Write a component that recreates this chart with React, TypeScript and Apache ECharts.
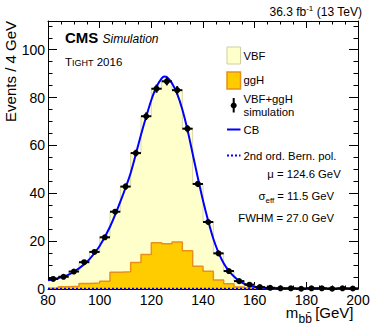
import React, { useEffect, useRef } from "react";
import * as echarts from "echarts";

// ---------- data ----------
const binLowEdges = [80, 84, 88, 92, 96, 100, 104, 108, 112, 116, 120, 124, 128, 132, 136, 140, 144, 148, 152, 156, 160, 164, 168, 172, 176, 180, 184, 188, 192, 196];
const binUpperEnd = 200;
const binCenters = [82, 86, 90, 94, 98, 102, 106, 110, 114, 118, 122, 126, 130, 134, 138, 142, 146, 150, 154, 158, 162, 166, 170, 174, 178, 182, 186, 190, 194, 198];

// VBF+ggH simulation (points)
const simValues = [4.2, 5.1, 7.3, 11.2, 15.5, 21.6, 32.3, 42.8, 56.8, 72.2, 83.7, 86.8, 83.1, 67.0, 43.9, 28.0, 14.9, 7.5, 3.3, 1.8, 0.8, 0.5, 0.3, 0.3, 0.1, 0.3, 0.3, 0.1, 0.3, 0.2];
const simErrors = [0.5, 0.5, 0.6, 0.7, 0.8, 0.9, 1.1, 1.3, 1.4, 1.6, 1.7, 1.7, 1.7, 1.5, 1.3, 1.0, 0.8, 0.6, 0.4, 0.3, 0.2, 0.2, 0.1, 0.1, 0.1, 0.1, 0.1, 0.1, 0.1, 0.1];

// stacked histograms (VBF sits on top of ggH)
const ggHValues = [0.3, 0.9, 1.1, 2.3, 2.5, 3.2, 7.0, 7.2, 11.1, 14.4, 19.3, 18.9, 19.6, 16.0, 9.5, 7.4, 3.8, 2.2, 0.8, 0.4, 0.2, 0.1, 0.05, 0.05, 0.0, 0.05, 0.0, 0.0, 0.05, 0.0];
const vbfValues = [3.9, 4.2, 6.2, 8.9, 13.0, 18.4, 25.3, 35.6, 45.7, 57.8, 64.4, 67.9, 63.5, 51.0, 34.4, 20.6, 11.1, 5.3, 2.5, 1.4, 0.6, 0.4, 0.25, 0.25, 0.1, 0.25, 0.3, 0.1, 0.25, 0.2];

// Crystal Ball fit curve
const cbX = [80, 84, 88, 92, 96, 100, 104, 108, 112, 116, 118, 120, 122, 124, 125, 126, 128, 130, 132, 134, 136, 138, 140, 142, 144, 146, 148, 150, 152, 154, 156, 158, 160, 164, 168, 175, 200];
const cbY = [3.6, 4.6, 6.0, 8.6, 12.4, 18.0, 26.0, 36.5, 48.5, 64.5, 72.0, 79.0, 84.5, 88.0, 88.8, 88.6, 86.0, 81.5, 75.0, 66.5, 56.5, 46.5, 37.0, 28.5, 21.0, 15.2, 10.8, 7.6, 5.2, 3.4, 2.2, 1.4, 0.9, 0.45, 0.3, 0.2, 0.15];

// 2nd order Bernstein polynomial (background, near zero)
const bernX = [80, 140, 200];
const bernY = [0.12, 0.1, 0.08];

const fitTexts = ["124.6", "11.5", "27.0"];

// ---------- helpers ----------
const FONT = "'Liberation Sans', Arial, Helvetica, sans-serif";
const BLACK = "#000000";

const stepData = (vals: number[]) =>
  binLowEdges.map((e, i) => [e, vals[i]]).concat([[binUpperEnd, vals[vals.length - 1]]]);

// stacked top of VBF = ggH + VBF
const stackedTop = vbfValues.map((v, i) => v + ggHValues[i]);

const xBase: any = {
  type: "value",
  min: 80,
  max: 200,
  interval: 20,
  axisLine: { show: true, onZero: false, lineStyle: { color: BLACK, width: 1 } },
  axisTick: { show: true, inside: true, length: 7, lineStyle: { color: BLACK, width: 1 } },
  minorTick: { show: true, splitNumber: 4, length: 3.5, lineStyle: { color: BLACK, width: 1 } },
  splitLine: { show: false },
  minorSplitLine: { show: false },
};

const yBase: any = {
  type: "value",
  min: 0,
  max: 112,
  splitLine: { show: false },
  axisLine: { show: true, onZero: false, lineStyle: { color: BLACK, width: 1 } },
};

const option: any = {
  animation: false,
  backgroundColor: "#ffffff",
  grid: { left: 48, right: 16, top: 21, bottom: 40, containLabel: false },
  xAxis: [
    {
      ...xBase,
      position: "bottom",
      axisLabel: { show: true, fontSize: 14, lineHeight: 10, color: BLACK, fontFamily: FONT, margin: 6 },
    },
    { ...xBase, position: "top", axisLabel: { show: false } },
  ],
  yAxis: [
    {
      ...yBase,
      position: "left",
      interval: 20,
      axisTick: { show: true, inside: true, length: 9, lineStyle: { color: BLACK } },
      axisLabel: { show: true, fontSize: 14, lineHeight: 10, color: BLACK, fontFamily: FONT, margin: 3, showMaxLabel: false },
    },
    {
      ...yBase,
      position: "left",
      interval: 5,
      axisLine: { show: false, onZero: false },
      axisTick: { show: true, inside: true, length: 4.5, lineStyle: { color: BLACK } },
      axisLabel: { show: false },
    },
    {
      ...yBase,
      position: "right",
      interval: 20,
      axisTick: { show: true, inside: true, length: 9, lineStyle: { color: BLACK } },
      axisLabel: { show: false },
    },
    {
      ...yBase,
      position: "right",
      interval: 5,
      axisLine: { show: false, onZero: false },
      axisTick: { show: true, inside: true, length: 4.5, lineStyle: { color: BLACK } },
      axisLabel: { show: false },
    },
  ],
  series: [
    {
      type: "line",
      name: "VBF",
      xAxisIndex: 0,
      yAxisIndex: 0,
      data: stepData(stackedTop),
      step: "end",
      symbol: "none",
      lineStyle: { color: "#d8d8a6", width: 1 },
      areaStyle: { color: "#ffffcc", opacity: 1, origin: "start" },
      z: 2,
    },
    {
      type: "line",
      name: "ggH",
      xAxisIndex: 0,
      yAxisIndex: 0,
      data: stepData(ggHValues),
      step: "end",
      symbol: "none",
      lineStyle: { color: "#e8901a", width: 1.5 },
      areaStyle: { color: "#ffcc00", opacity: 1, origin: "start" },
      z: 3,
    },
    {
      type: "line",
      name: "Bern",
      xAxisIndex: 0,
      yAxisIndex: 0,
      data: bernX.map((x, i) => [x, bernY[i]]),
      symbol: "none",
      lineStyle: { color: "#0000ff", width: 2, type: [2, 2] },
      z: 4,
    },
    {
      type: "line",
      name: "CB",
      xAxisIndex: 0,
      yAxisIndex: 0,
      data: cbX.map((x, i) => [x, cbY[i]]),
      smooth: 0.3,
      symbol: "none",
      lineStyle: { color: "#0000ff", width: 2 },
      z: 5,
    },
    {
      type: "custom",
      name: "VBF+ggH simulation",
      xAxisIndex: 0,
      yAxisIndex: 0,
      data: binCenters.map((x, i) => [x, simValues[i], simErrors[i]]),
      encode: { x: 0, y: 1 },
      z: 10,
      renderItem: (params: any, api: any) => {
        const x = api.value(0);
        const y = api.value(1);
        const e = api.value(2);
        const c = api.coord([x, y]);
        const l = api.coord([x - 2, y]);
        const r = api.coord([x + 2, y]);
        const t = api.coord([x, y + e]);
        const b = api.coord([x, y - e]);
        const s = { stroke: BLACK, lineWidth: 2 };
        return {
          type: "group",
          children: [
            { type: "line", shape: { x1: l[0], y1: l[1], x2: r[0], y2: r[1] }, style: s },
            { type: "line", shape: { x1: t[0], y1: t[1], x2: b[0], y2: b[1] }, style: s },
            { type: "circle", shape: { cx: c[0], cy: c[1], r: 3 }, style: { fill: BLACK } },
          ],
        };
      },
    },
  ],
  graphic: [
    // luminosity label
    {
      type: "text",
      x: 362,
      y: 12,
      style: {
        text: "{n|36.3 fb}{s|-1}{n| (13 TeV)}",
        align: "right",
        verticalAlign: "middle",
        rich: {
          n: { fontSize: 12, fontFamily: FONT, fill: BLACK, lineHeight: 16 },
          s: { fontSize: 8, fontFamily: FONT, fill: BLACK, lineHeight: 9, verticalAlign: "top" },
        },
      },
    },
    // CMS Simulation
    {
      type: "text",
      x: 65,
      y: 37.5,
      style: { text: "CMS", fontSize: 15, fontWeight: "bold", fontFamily: FONT, fill: BLACK, verticalAlign: "middle" },
    },
    {
      type: "text",
      x: 102.5,
      y: 38.5,
      style: { text: "Simulation", fontSize: 12, fontStyle: "italic", fontFamily: FONT, fill: BLACK, verticalAlign: "middle" },
    },
    // Tight 2016 (small caps)
    {
      type: "text",
      x: 65,
      y: 61.5,
      style: {
        text: "{a|T}{b|IGHT}{a| 2016}",
        verticalAlign: "middle",
        rich: {
          a: { fontSize: 11.5, fontFamily: FONT, fill: BLACK, lineHeight: 12, verticalAlign: "bottom" },
          b: { fontSize: 9, fontFamily: FONT, fill: BLACK, lineHeight: 9.4, verticalAlign: "bottom" },
        },
      },
    },
    // y-axis title
    {
      type: "text",
      x: 10,
      y: 21,
      rotation: Math.PI / 2,
      style: { text: "Events / 4 GeV", fontSize: 15, fontFamily: FONT, fill: BLACK, align: "right", verticalAlign: "middle" },
    },
    // x-axis title: m, subscript bb-bar, [GeV]
    {
      type: "text",
      x: 298.3,
      y: 312.5,
      style: { text: "m", fontSize: 15, fontFamily: FONT, fill: BLACK, align: "right", verticalAlign: "middle" },
    },
    {
      type: "text",
      x: 298.6,
      y: 319.3,
      style: { text: "bb\u0304", fontSize: 12, fontFamily: FONT, fill: BLACK, align: "left", verticalAlign: "middle" },
    },
    {
      type: "text",
      x: 353.5,
      y: 312.5,
      style: { text: "[GeV]", fontSize: 15, fontFamily: FONT, fill: BLACK, align: "right", verticalAlign: "middle" },
    },
    // legend: VBF
    { type: "rect", shape: { x: 227, y: 47, width: 13.5, height: 17 }, style: { fill: "#ffffcc", stroke: "#cfcf9f", lineWidth: 1 } },
    { type: "text", x: 243.5, y: 56, style: { text: "VBF", fontSize: 11.3, fontFamily: FONT, fill: BLACK, verticalAlign: "middle" } },
    // legend: ggH
    { type: "rect", shape: { x: 227, y: 72, width: 13.5, height: 17 }, style: { fill: "#ffcc00", stroke: "#e8901a", lineWidth: 1.5 } },
    { type: "text", x: 243.5, y: 79.5, style: { text: "ggH", fontSize: 11.3, fontFamily: FONT, fill: BLACK, verticalAlign: "middle" } },
    // legend: simulation points
    { type: "line", shape: { x1: 233.7, y1: 98, x2: 233.7, y2: 112.5 }, style: { stroke: BLACK, lineWidth: 2 } },
    { type: "circle", shape: { cx: 233.7, cy: 105.5, r: 3 }, style: { fill: BLACK } },
    { type: "text", x: 243.5, y: 99, style: { text: "VBF+ggH", fontSize: 11.3, fontFamily: FONT, fill: BLACK, verticalAlign: "middle" } },
    { type: "text", x: 243.5, y: 111.8, style: { text: "simulation", fontSize: 11.3, fontFamily: FONT, fill: BLACK, verticalAlign: "middle" } },
    // legend: CB
    { type: "line", shape: { x1: 227, y1: 129.5, x2: 240.5, y2: 129.5 }, style: { stroke: "#0000ff", lineWidth: 2 } },
    { type: "text", x: 243.5, y: 129.5, style: { text: "CB", fontSize: 11.3, fontFamily: FONT, fill: BLACK, verticalAlign: "middle" } },
    // legend: Bernstein
    { type: "line", shape: { x1: 227, y1: 155.5, x2: 240.5, y2: 155.5 }, style: { stroke: "#0000ff", lineWidth: 2, lineDash: [2, 2] } },
    { type: "text", x: 243.5, y: 155.5, style: { text: "2nd ord. Bern. pol.", fontSize: 11.3, fontFamily: FONT, fill: BLACK, verticalAlign: "middle" } },
    // fit results
    { type: "text", x: 340.7, y: 174.3, style: { text: "\u03bc = " + fitTexts[0] + " GeV", fontSize: 11.3, fontFamily: FONT, fill: BLACK, align: "right", verticalAlign: "middle" } },
    {
      type: "text",
      x: 334,
      y: 196,
      style: {
        text: "{a|\u03c3}{b|eff}{a| = " + fitTexts[1] + " GeV}",
        align: "right",
        verticalAlign: "middle",
        rich: {
          a: { fontSize: 11.3, fontFamily: FONT, fill: BLACK, lineHeight: 16 },
          b: { fontSize: 8, fontFamily: FONT, fill: BLACK, lineHeight: 8, verticalAlign: "bottom" },
        },
      },
    },
    { type: "text", x: 334, y: 218.3, style: { text: "FWHM = " + fitTexts[2] + " GeV", fontSize: 11.3, fontFamily: FONT, fill: BLACK, align: "right", verticalAlign: "middle" } },
  ],
};

export default function App() {
  const ref = useRef<HTMLDivElement>(null);
  useEffect(() => {
    const chart = echarts.init(ref.current as HTMLDivElement, null, { renderer: "svg" });
    chart.setOption(option);
    return () => {
      chart.dispose();
    };
  }, []);
  return <div ref={ref} style={{ position: "fixed", left: 0, top: 0, width: 374, height: 329 }} />;
}
